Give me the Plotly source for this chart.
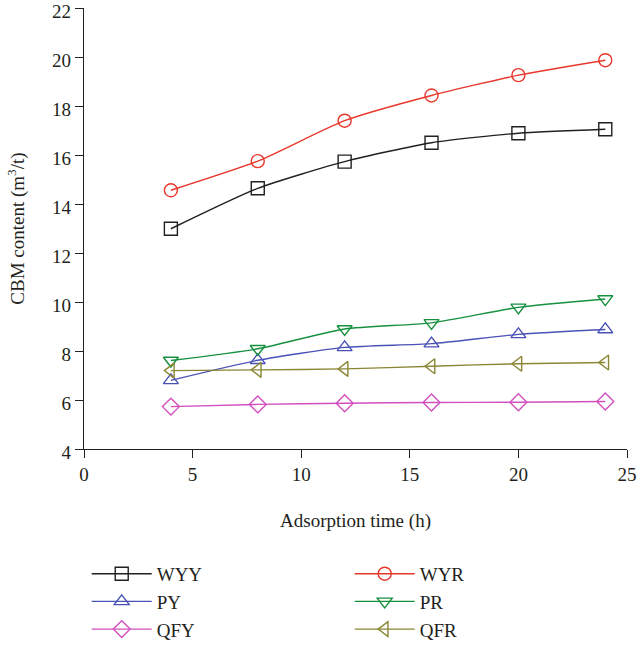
import plotly.graph_objects as go

time_h = [4, 8, 12, 16, 20, 24]
wyy = [12.99, 14.64, 15.73, 16.50, 16.89, 17.05]
wyr = [14.56, 15.75, 17.40, 18.43, 19.26, 19.87]
py = [6.80, 7.62, 8.15, 8.30, 8.68, 8.88]
pr = [7.61, 8.09, 8.90, 9.15, 9.78, 10.12]
qfy = [5.73, 5.82, 5.87, 5.90, 5.91, 5.94]
qfr = [7.20, 7.23, 7.27, 7.38, 7.48, 7.53]

series = [
    ("WYY", wyy, "#231f20", "square-open"),
    ("WYR", wyr, "#e8372c", "circle-open"),
    ("PY", py, "#4a52b5", "triangle-up-open"),
    ("PR", pr, "#17903f", "triangle-down-open"),
    ("QFY", qfy, "#d24fbf", "diamond-open"),
    ("QFR", qfr, "#8a8634", "triangle-left-open"),
]

FONT = "Liberation Serif"
fig = go.Figure()
for name, vals, color, sym in series:
    fig.add_trace(go.Scatter(
        x=time_h, y=vals, name=name, mode="lines+markers",
        line=dict(color=color, width=1.4, shape="spline", smoothing=0.6),
        marker=dict(symbol=sym, size=13, color=color, line=dict(width=1.4, color=color)),
    ))

axis_common = dict(
    showline=True, linecolor="#231f20", linewidth=1.3,
    ticks="outside", ticklen=8, tickwidth=1.3, tickcolor="#231f20",
    showgrid=False, zeroline=False, mirror=False,
    ticklabeloverflow="allow",
    tickfont=dict(family=FONT, size=19, color="#231f20"),
)

fig.update_layout(
    width=637, height=649,
    margin=dict(l=84, r=10, t=8, b=200, autoexpand=False),
    paper_bgcolor="white", plot_bgcolor="white",
    font=dict(family=FONT, color="#231f20"),
    xaxis=dict(range=[0, 25], tickvals=[0, 5, 10, 15, 20, 25],
               title=dict(text="Adsorption time (h)", font=dict(family=FONT, size=19), standoff=29),
               **axis_common),
    yaxis=dict(range=[4, 22], tickvals=[4, 6, 8, 10, 12, 14, 16, 18, 20, 22],
               ticklabelshift=3,
               title=dict(text="CBM content (m<sup>3</sup>/t)", font=dict(family=FONT, size=19), standoff=22),
               **axis_common),
    showlegend=True,
    legend=dict(
        orientation="h", x=0.005, y=-0.24, xanchor="left", yanchor="top",
        entrywidth=188, entrywidthmode="pixels",
        font=dict(family=FONT, size=19, color="#231f20"),
        itemwidth=60, tracegroupgap=0,
    ),
)

fig.write_html("out.html", config={"displayModeBar": False},
               post_script="document.body.style.margin='0';")
